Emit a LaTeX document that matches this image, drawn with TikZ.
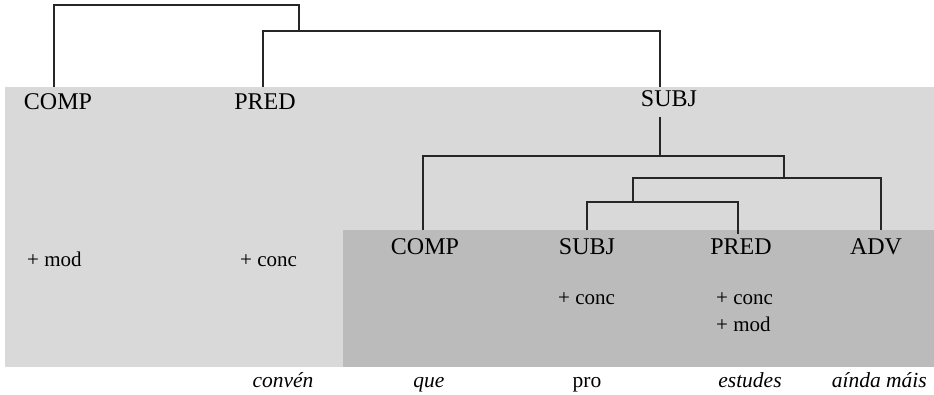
\documentclass[tikz,border=0pt]{standalone}
\usepackage{fontspec}
\setmainfont{Liberation Serif}
\definecolor{panel}{HTML}{D9D9D9}
\definecolor{inner}{HTML}{BBBBBB}
\begin{document}
\begin{tikzpicture}[x=1pt,y=-1pt,
  cat/.style={font=\fontsize{24}{28}\selectfont, inner sep=0pt, anchor=base},
  feat/.style={font=\fontsize{21}{24}\selectfont, inner sep=0pt, anchor=base west},
  word/.style={font=\fontsize{21.5}{26}\selectfont\itshape, inner sep=0pt, anchor=base},
  branch/.style={draw=black!85, line width=1.1pt}]
\useasboundingbox (0,0) rectangle (934,395);

% shaded domains
\fill[panel] (5,87) rectangle (934,367);
\fill[inner] (343,230) rectangle (934,367);

% category labels
\node[cat] (comp1) at (58,110) {COMP};
\node[cat] (pred1) at (265,110) {PRED};
\node[cat] (subj1) at (669,107) {SUBJ};
\node[cat] (comp2) at (425,255) {COMP};
\node[cat] (subj2) at (587,255) {SUBJ};
\node[cat] (pred2) at (741,255) {PRED};
\node[cat] (adv2)  at (876,255) {ADV};

% features
\node[feat] (f1) at (27,267) {+ mod};
\node[feat] (f2) at (240,267) {+ conc};
\node[feat] (f3) at (558,305) {+ conc};
\node[feat] (f4) at (716,305) {+ conc};
\node[feat] (f5) at (716,331) {+ mod};

% words
\node[word] (w1) at (283,387) {convén};
\node[word] (w2) at (429,387) {que};
\node[word,font=\fontsize{21.5}{26}\selectfont] (w3) at (587,387) {pro};
\node[word] (w4) at (750,387) {estudes};
\node[word,anchor=base east] (w5) at (927,387) {aínda máis};

% branch points
\coordinate (c1) at (54,87);
\coordinate (top) at (176,5);
\coordinate (j1) at (299,31);
\coordinate (p1) at (263,87);
\coordinate (s1) at (660,87);
\coordinate (s2) at (660,117);
\coordinate (j2) at (660,156);
\coordinate (j3) at (784,178);
\coordinate (j5) at (633,202);
\coordinate (k1) at (423,230);
\coordinate (k2) at (587,230);
\coordinate (k3) at (738,234);
\coordinate (k4) at (881,230);

% upper tree
\draw[branch] (c1) |- (top) -| (j1);
\draw[branch] (p1) |- (j1) -| (s1);

% embedded clause
\draw[branch] (s2) -- (j2);
\draw[branch] (k1) |- (j2) -| (j3);
\draw[branch] (k4) |- (j3) -| (j5);
\draw[branch] (k2) |- (j5) -| (k3);
\end{tikzpicture}
\end{document}
